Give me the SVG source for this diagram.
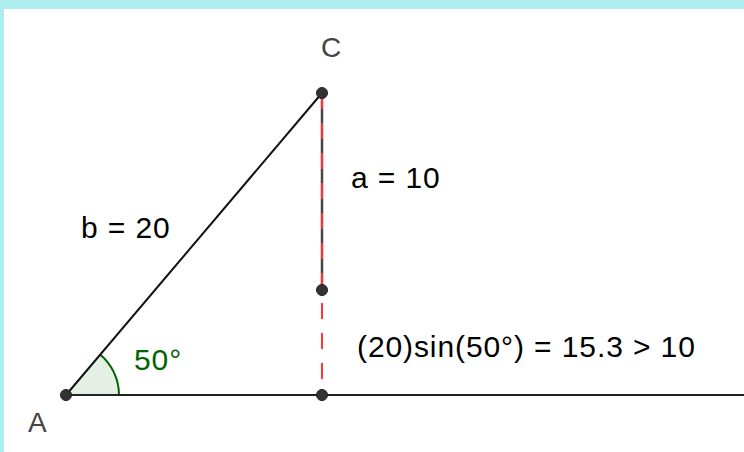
<svg xmlns="http://www.w3.org/2000/svg" width="744" height="452" viewBox="0 0 744 452">
<style>
.lbl{font-family:"Liberation Sans",Arial,sans-serif;font-size:30px;fill:#000;letter-spacing:0.9px}
.pt{fill:#333;stroke:#222;stroke-width:1}
.ptname{font-family:"Liberation Sans",Arial,sans-serif;font-size:28px;fill:#444}
</style>
<rect x="0" y="0" width="744" height="452" fill="#afeeee"/>
<rect x="4" y="9" width="740" height="443" fill="#ffffff"/>
<g id="angle">
<path d="M66,395 L119,395 A53,53 0 0,0 100.1,354.4 Z" fill="#e5f0e5" stroke="none"/>
<path d="M119,395 A53,53 0 0,0 100.1,354.4" fill="none" stroke="#006400" stroke-width="2"/>
<text class="lbl" x="134" y="370" style="fill:#006400">50°</text>
</g>
<g id="connectors">
<line x1="66" y1="395" x2="744" y2="395" stroke="#222" stroke-width="2"/>
<line x1="66" y1="395" x2="322" y2="93" stroke="#111" stroke-width="2"/>
<line x1="322" y1="93" x2="322" y2="290" stroke="#444" stroke-width="2.5"/>
<line x1="322" y1="93" x2="322" y2="395" stroke="#ff3333" stroke-width="2" stroke-dasharray="16,14"/>
</g>
<g id="A"><circle class="pt" cx="66" cy="395" r="5.5"/><text class="ptname" x="28" y="432">A</text></g>
<g id="C"><circle class="pt" cx="322" cy="93" r="5.5"/><text class="ptname" x="321" y="57">C</text></g>
<g id="D"><circle class="pt" cx="322" cy="290" r="5.5"/></g>
<g id="F"><circle class="pt" cx="322" cy="395" r="5.5"/></g>
<g id="labels">
<text class="lbl" x="81" y="238">b = 20</text>
<text class="lbl" x="351" y="188">a = 10</text>
<text class="lbl" x="357" y="357">(20)sin(50°) = 15.3 &gt; 10</text>
</g>
</svg>
